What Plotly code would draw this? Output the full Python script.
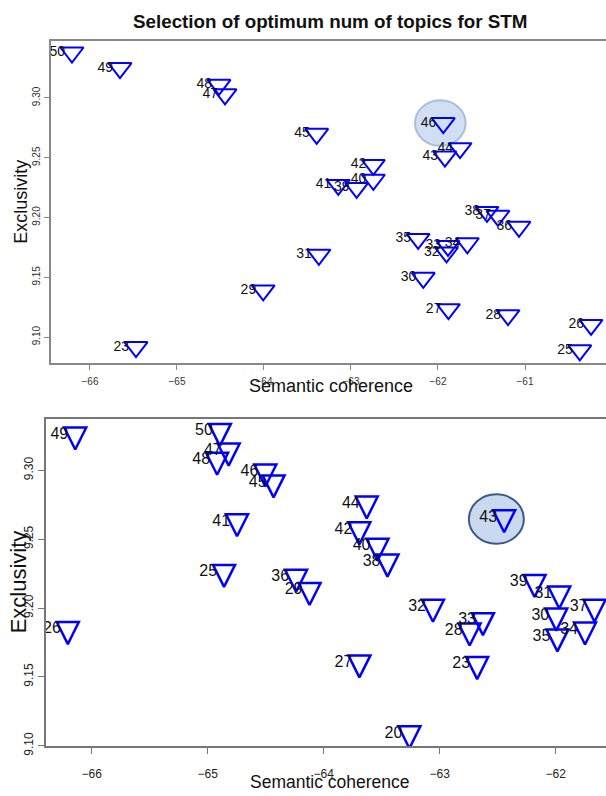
import plotly.graph_objects as go

# ---------------- data ----------------
# Upper panel: number of topics K, semantic coherence, exclusivity
top_k = [23, 25, 26, 27, 28, 29, 30, 31, 32, 33, 34, 35, 36, 37, 38,
         39, 40, 41, 42, 43, 44, 45, 46, 47, 48, 49, 50]
top_coh = [-65.471, -60.370, -60.241, -61.880, -61.195, -64.009, -62.169,
           -63.369, -61.902, -61.885, -61.663, -62.228, -61.069, -61.311,
           -61.437, -62.935, -62.743, -63.146, -62.743, -61.920, -61.747,
           -63.394, -61.939, -64.448, -64.517, -65.655, -66.207]
top_exc = [9.0917, 9.0890, 9.1102, 9.1234, 9.1184, 9.1391, 9.1496,
           9.1689, 9.1708, 9.1763, 9.1785, 9.1821, 9.1923, 9.2014,
           9.2047, 9.2248, 9.2316, 9.2273, 9.2440, 9.2510, 9.2580,
           9.2700, 9.2790, 9.3030, 9.3110, 9.3250, 9.3380]
top_highlight = 46

# Lower panel
bot_k = [20, 23, 25, 26, 27, 28, 29, 30, 31, 32, 33, 34, 35, 36, 37,
         38, 39, 40, 41, 42, 43, 44, 45, 46, 47, 48, 49, 50]
bot_coh = [-63.261, -62.677, -64.859, -66.206, -63.692, -62.742, -64.122,
           -61.995, -61.969, -63.058, -62.627, -61.747, -61.985, -64.238,
           -61.665, -63.450, -62.182, -63.536, -64.747, -63.693, -62.444,
           -63.629, -64.432, -64.503, -64.819, -64.919, -66.142, -64.895]
bot_exc = [9.1088, 9.1591, 9.2260, 9.1845, 9.1603, 9.1835, 9.2129,
           9.1943, 9.2103, 9.2007, 9.1910, 9.1842, 9.1792, 9.2225,
           9.2007, 9.2335, 9.2187, 9.2450, 9.2628, 9.2569, 9.2657,
           9.2757, 9.2910, 9.2989, 9.3141, 9.3074, 9.3258, 9.3284]
bot_highlight = 43

top_xticks = [-66, -65, -64, -63, -62, -61]
bot_xticks = [-66, -65, -64, -63, -62]
y_ticks = [9.10, 9.15, 9.20, 9.25, 9.30]
y_ticklabels = ["9.10", "9.15", "9.20", "9.25", "9.30"]

title_text = "Selection of optimum num of topics for STM"
x_title = "Semantic coherence"
y_title = "Exclusivity"

# ---------------- figure ----------------
W, H = 606, 796
BLUE = "#0000ff"
REG = "Liberation Sans, Arial, sans-serif"

fig = go.Figure()

# upper panel markers
fig.add_trace(go.Scatter(
    x=top_coh, y=top_exc, mode="markers", xaxis="x", yaxis="y",
    marker=dict(symbol="triangle-down", size=20, color="rgba(0,0,0,0)",
                line=dict(color=BLUE, width=2)),
    hoverinfo="skip", showlegend=False))
fig.add_trace(go.Scatter(
    x=top_coh, y=top_exc, mode="markers+text", xaxis="x", yaxis="y",
    text=[str(k) for k in top_k], textposition="middle left",
    textfont=dict(family=REG, size=14, color="#111"),
    marker=dict(size=9.6, color="rgba(0,0,0,0)"),
    hoverinfo="skip", showlegend=False))

# lower panel markers
fig.add_trace(go.Scatter(
    x=bot_coh, y=bot_exc, mode="markers", xaxis="x2", yaxis="y2",
    marker=dict(symbol="arrow-down", size=22, standoff=14.7,
                color="rgba(0,0,0,0)",
                line=dict(color=BLUE, width=2.5)),
    hoverinfo="skip", showlegend=False))
fig.add_trace(go.Scatter(
    x=bot_coh, y=bot_exc, mode="markers+text", xaxis="x2", yaxis="y2",
    text=[str(k) for k in bot_k], textposition="middle left",
    textfont=dict(family=REG, size=16, color="#111"),
    marker=dict(size=9.6, color="rgba(0,0,0,0)"),
    hoverinfo="skip", showlegend=False))

i_top = top_k.index(top_highlight)
i_bot = bot_k.index(bot_highlight)
shapes = [
    dict(type="circle", xref="x", yref="y", xsizemode="pixel", ysizemode="pixel",
         xanchor=top_coh[i_top], yanchor=top_exc[i_top],
         x0=-28.3, x1=22.3, y0=-22.8, y1=22.8, layer="below",
         fillcolor="rgba(180,201,233,0.6)",
         line=dict(color="rgba(160,184,222,0.9)", width=2)),
    dict(type="circle", xref="x2", yref="y2", xsizemode="pixel", ysizemode="pixel",
         xanchor=bot_coh[i_bot], yanchor=bot_exc[i_bot],
         x0=-35.3, x1=19.7, y0=-26.2, y1=23.2, layer="below",
         fillcolor="rgba(190,208,236,0.8)",
         line=dict(color="#3b5a8a", width=2)),
]

axis_common = dict(showgrid=False, zeroline=False, showline=True, ticks="outside")

fig.update_layout(
    width=W, height=H, autosize=False,
    margin=dict(l=0, r=0, t=0, b=0),
    paper_bgcolor="white", plot_bgcolor="white",
    shapes=shapes,
    xaxis=dict(**axis_common, domain=[51 / W, 1], range=[-66.448, -60.069],
               tickvals=top_xticks, ticklen=5, tickcolor="#888", linecolor="#888",
               linewidth=1.5, mirror=True, anchor="y", ticklabelstandoff=3,
               tickfont=dict(family=REG, size=10, color="#333")),
    yaxis=dict(**axis_common, domain=[(H - 367) / H, (H - 41) / H],
               range=[9.0785, 9.348], tickvals=y_ticks, ticktext=y_ticklabels,
               tickangle=-90, ticklen=5, tickcolor="#888", linecolor="#888",
               linewidth=1.5, anchor="x",
               tickfont=dict(family=REG, size=10, color="#333")),
    xaxis2=dict(**axis_common, domain=[46 / W, 1], range=[-66.394, -61.566],
                tickvals=bot_xticks, ticklen=6, tickcolor="#777", linecolor="#777",
                linewidth=2, mirror=True, anchor="y2", ticklabelstandoff=9,
                tickfont=dict(family=REG, size=12, color="#222")),
    yaxis2=dict(**axis_common, domain=[(H - 755) / H, (H - 423.3) / H],
                range=[9.0995, 9.3376], tickvals=y_ticks, ticktext=y_ticklabels,
                tickangle=-90, ticklen=6, tickcolor="#777", linecolor="#777",
                linewidth=2, anchor="x2",
                tickfont=dict(family=REG, size=12, color="#222")),
    annotations=[
        dict(text="<b>" + title_text + "</b>", xref="paper", yref="paper",
             x=330 / W, y=(H - 22) / H, xanchor="center", yanchor="middle",
             showarrow=False, font=dict(family=REG, size=18.8, color="#111")),
        dict(text=x_title, xref="paper", yref="paper",
             x=331 / W, y=(H - 390) / H, xanchor="center", yanchor="middle",
             showarrow=False, font=dict(family=REG, size=18, color="#111")),
        dict(text=y_title, xref="paper", yref="paper", textangle=-90,
             x=21 / W, y=(H - 204) / H, xanchor="center", yanchor="middle",
             showarrow=False, font=dict(family=REG, size=18, color="#111")),
        dict(text=x_title, xref="paper", yref="paper",
             x=330 / W, y=0, xanchor="center", yanchor="bottom", yshift=-7,
             showarrow=False, font=dict(family=REG, size=17.5, color="#111")),
        dict(text=y_title, xref="paper", yref="paper", textangle=-90,
             x=18 / W, y=(H - 589) / H, xanchor="center", yanchor="middle",
             showarrow=False, font=dict(family=REG, size=22, color="#111")),
    ],
)

fig.write_html("out.html", config={"displayModeBar": False})
